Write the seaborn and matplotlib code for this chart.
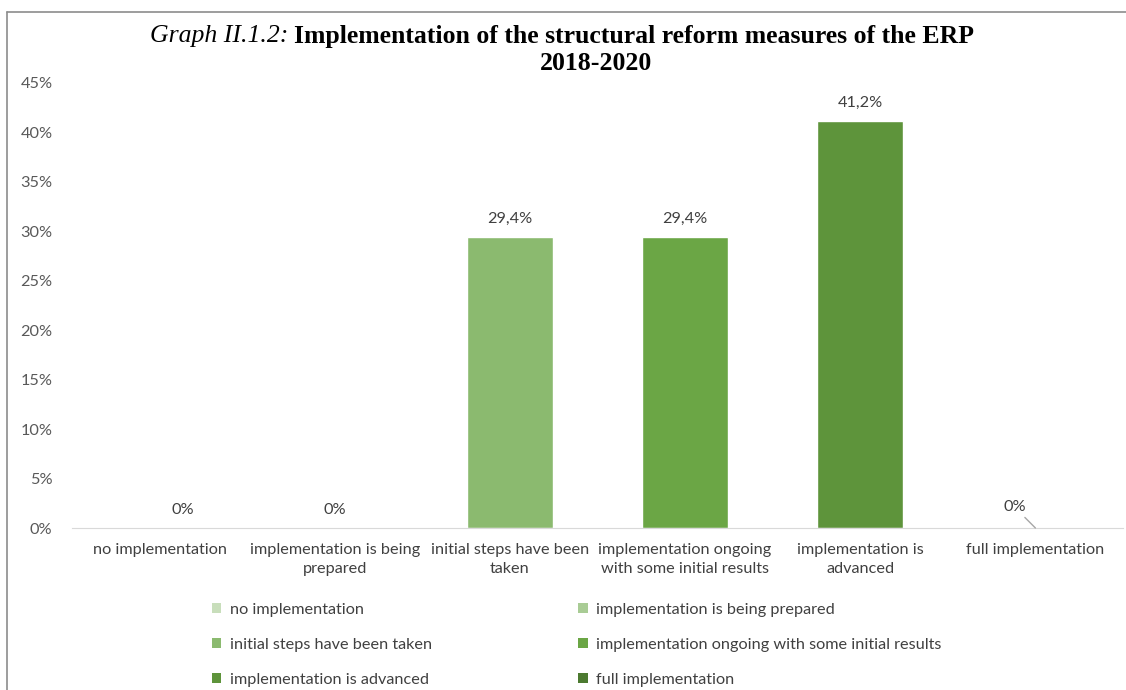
import matplotlib.pyplot as plt
import seaborn as sns
from matplotlib.patches import Patch
from matplotlib.lines import Line2D

categories = ['no implementation', 'implementation is being prepared', 'initial steps have been taken',
              'implementation ongoing with some initial results', 'implementation is advanced',
              'full implementation']
tick_labels = ['no implementation', 'implementation is being\nprepared', 'initial steps have been\ntaken',
               'implementation ongoing\nwith some initial results', 'implementation is\nadvanced',
               'full implementation']
shares = [0.0, 0.0, 0.294, 0.294, 0.412, 0.0]
value_labels = ['0%', '0%', '29,4%', '29,4%', '41,2%', '0%']
colors = ['#C8DEBB', '#A9CC95', '#8BBA6F', '#6BA645', '#5E943B', '#4C7A30']

sns.set_style('white')
plt.rcParams['font.family'] = ['Lato', 'DejaVu Sans']

fig = plt.figure(figsize=(11.26, 6.90), dpi=100)
ax = fig.add_axes([72 / 1126, 1 - 528 / 690, 1051 / 1126, 445 / 690])

sns.barplot(x=categories, y=shares, hue=categories, palette=colors, legend=False,
            width=0.49, saturation=1, ax=ax)

fs = 11.7
ax.set_ylim(0, 0.45)
ax.set_xlim(-0.5, 5.5)
ax.set_yticks([i * 0.05 for i in range(10)])
ax.set_yticklabels([f'{i * 5}%' for i in range(10)], color='#595959', fontsize=fs)
ax.set_xticks(range(6))
ax.set_xticklabels(tick_labels, color='#404040', fontsize=fs, linespacing=1.4)
ax.set_xticks([i - 0.5 for i in range(7)], minor=True)
ax.tick_params(axis='x', which='major', length=0, pad=11)
ax.tick_params(axis='x', which='minor', length=6, color='#D9D9D9', width=1)
ax.tick_params(axis='y', length=0, pad=14)
ax.set_xlabel('')
ax.set_ylabel('')
for s in ['left', 'right', 'top']:
    ax.spines[s].set_visible(False)
ax.spines['bottom'].set_color('#D9D9D9')

# data labels
offsets = [(17, 13), (0, 13), (0, 13), (0, 13), (0, 13), (-15, 15)]
for i, (v, lab) in enumerate(zip(shares, value_labels)):
    if i == 5:
        ax.annotate(lab, xy=(i, v), xytext=offsets[i], textcoords='offset points',
                    ha='center', va='center', fontsize=fs, color='#404040',
                    arrowprops=dict(arrowstyle='-', color='#A6A6A6', lw=1,
                                    shrinkA=0, shrinkB=0))
    else:
        ax.annotate(lab, xy=(i, v), xytext=offsets[i], textcoords='offset points',
                    ha='center', va='center', fontsize=fs, color='#404040')

# title: italic part + bold part, centred as one line
tfs = 18.5
t1 = fig.text(0, 1 - 36 / 690, 'Graph II.1.2: ', family='Liberation Serif',
              style='italic', fontsize=tfs, va='center', ha='left', color='black')
t2 = ax.annotate('Implementation of the structural reform measures of the ERP', xy=(1, 0.5),
                 xycoords=t1, va='center', ha='left', family='Liberation Serif',
                 weight='bold', fontsize=tfs, annotation_clip=False, color='black')
fig.canvas.draw()
r = fig.canvas.get_renderer()
w = t1.get_window_extent(r).width + t2.get_window_extent(r).width
t1.set_x((562 - w / 2) / 1126)
fig.text(596 / 1126, 1 - 63 / 690, '2018-2020', family='Liberation Serif', weight='bold',
         fontsize=tfs, va='center', ha='center', color='black')

# legend
handles = [Patch(facecolor=c, edgecolor='none') for c in colors]
order = [0, 2, 4, 1, 3, 5]
fig.legend([handles[i] for i in order], [categories[i] for i in order], ncol=2,
           loc='upper left', bbox_to_anchor=(197 / 1126, 1 - 588 / 690), frameon=False,
           fontsize=fs, handlelength=0.6, handleheight=0.6, handletextpad=0.5,
           labelspacing=1.3, columnspacing=9.0, labelcolor='#404040')

# chart frame (left and top edges visible)
fig.add_artist(Line2D([7 / 1126, 7 / 1126], [0, 1 - 12 / 690], color='#8C8C8C', lw=1.2))
fig.add_artist(Line2D([7 / 1126, 1], [1 - 12 / 690, 1 - 12 / 690], color='#8C8C8C', lw=1.2))

fig.savefig('out.png', dpi=100)
